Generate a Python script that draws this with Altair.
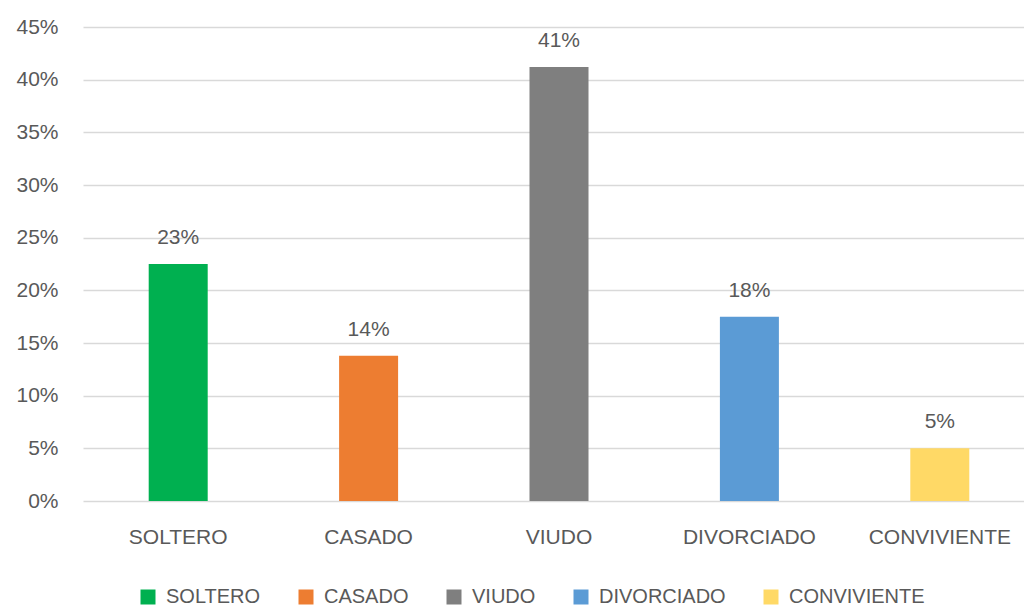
import altair as alt
import pandas as pd

categories = ["SOLTERO", "CASADO", "VIUDO", "DIVORCIADO", "CONVIVIENTE"]
values = [0.225, 0.138, 0.412, 0.175, 0.050]
labels = ["23%", "14%", "41%", "18%", "5%"]
colors = ["#00B050", "#ED7D31", "#7F7F7F", "#5B9BD5", "#FFD966"]

df = pd.DataFrame({"cat": categories, "val": values, "lab": labels})

FONT = "Liberation Sans"
TXT = "#595959"

x = alt.X("cat:N", sort=categories, title=None,
          scale=alt.Scale(paddingInner=0.0, paddingOuter=0.0, range=[0, 952]),
          axis=alt.Axis(labelAngle=0, labelFontSize=21, labelColor=TXT, labelFont=FONT,
                        ticks=False, domain=False, labelPadding=25, grid=False))

bars = alt.Chart(df).mark_bar(size=59).encode(
    x=x,
    y=alt.Y("val:Q", title=None,
            scale=alt.Scale(domain=[0, 0.45], nice=False),
            axis=alt.Axis(format=".0%", values=[0, 0.05, 0.1, 0.15, 0.2, 0.25, 0.3, 0.35, 0.4, 0.45],
                          labelFontSize=21, labelColor=TXT, labelFont=FONT, ticks=False,
                          domain=False, labelPadding=25, gridColor="#D9D9D9", gridWidth=1.5)),
    color=alt.Color("cat:N", sort=categories, title=None,
                    scale=alt.Scale(domain=categories, range=colors),
                    legend=alt.Legend(orient="none", legendX=55, legendY=560, direction="horizontal",
                                      columns=5, symbolType="square", symbolSize=225,
                                      symbolStrokeWidth=0, symbolOpacity=1,
                                      labelFontSize=20, labelColor=TXT, labelFont=FONT,
                                      columnPadding=35, labelOffset=8)),
)

text = alt.Chart(df).mark_text(baseline="alphabetic", dy=-20, fontSize=21, color=TXT, font=FONT).encode(
    x=alt.X("cat:N", sort=categories),
    y="val:Q",
    text="lab:N",
)

chart = (bars + text).properties(
    width=941, height=474,
    autosize=alt.AutoSizeParams(type="none"),
    padding={"left": 83, "top": 27, "right": 0, "bottom": 107},
    background="white",
).configure_view(stroke=None)

chart.save("out.html", embed_options={"renderer": "svg", "actions": False})
